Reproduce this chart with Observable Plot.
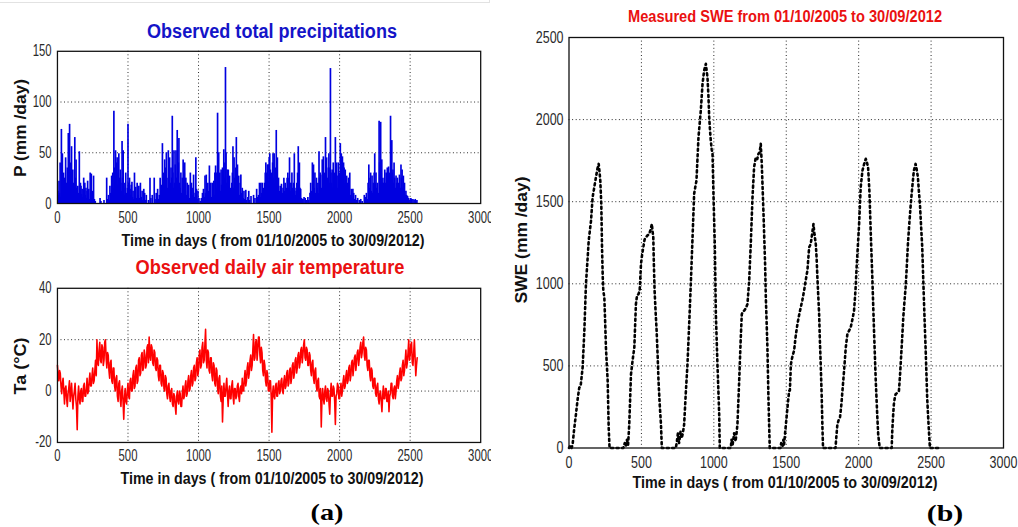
<!DOCTYPE html>
<html>
<head>
<meta charset="utf-8">
<script src="https://cdn.jsdelivr.net/npm/d3@7"></script>
<script src="https://cdn.jsdelivr.net/npm/@observablehq/plot@0.6"></script>
<style>
  html, body { margin: 0; padding: 0; background: #fff; }
  body { width: 1018px; height: 527px; position: relative; overflow: hidden; font-family: "Liberation Sans", Arial, sans-serif; }
  .lbl { position: absolute; white-space: nowrap; font-weight: bold; line-height: 1; transform-origin: center center; }
  #leftClip { position: absolute; left: 0; top: 0; width: 491px; height: 527px; overflow: hidden; }
  #topRule { position: absolute; left: 0; top: 0; width: 489px; height: 2px; border-bottom: 1px solid #e2e2e2; border-right: 1px solid #e2e2e2; }
</style>
</head>
<body>
<div id="leftClip"><div id="topRule"></div></div>
<script>
// ---------------- data ----------------
const xTicks = [0, 500, 1000, 1500, 2000, 2500, 3000];
const pTicks = [0, 50, 100, 150];
const taTicks = [-20, 0, 20, 40];
const sweTicks = [0, 500, 1000, 1500, 2000, 2500];

const titleP = "Observed total precipitations";
const titleTa = "Observed daily air temperature";
const titleSwe = "Measured SWE from 01/10/2005 to 30/09/2012";
const xLabel = "Time in days ( from 01/10/2005 to 30/09/2012)";
const yLabelP = "P (mm /day)";
const yLabelTa = "Ta (°C)";
const yLabelSwe = "SWE (mm /day)";
const panelA = "(a)";
const panelB = "(b)";

// daily precipitation [day, mm/day]
const precipitation = [
 [3,12],[7,8],[11,22],[15,10],[19,40],[23,6],[28,73],[31,18],[35,49],[39,12],[43,30],[47,8],[51,25],[54,14],[58,45],[62,20],[66,10],[70,35],[74,15],[77,69],[81,28],[86,78],[90,40],[94,18],[97,30],[100,56],[104,12],[109,33],[113,20],[118,8],[123,65],[127,25],[132,43],[136,15],[140,5],[144,17],[148,10],[151,8],[155,51],[159,12],[163,20],[167,17],[171,9],[175,14],[180,6],[186,25],[190,12],[194,20],[198,8],[202,15],[207,5],[210,12],[214,22],[218,6],[222,14],[226,4],[232,30],[236,10],[240,29],[245,6],[250,12],[256,27],[262,4],[268,2],
 [302,5],[308,2],[330,3],[349,25],[356,4],[362,8],[368,3],[372,17],[378,10],[384,27],[388,12],[392,30],[396,15],[400,91],[404,35],[408,20],[412,52],[416,22],[420,40],[423,45],[427,18],[431,30],[435,49],[439,25],[442,15],[446,33],[450,20],[454,12],[458,61],[462,25],[466,52],[470,15],[474,8],[478,20],[484,30],[488,10],[492,6],[496,15],[500,78],[504,20],[508,10],[511,25],[515,14],[519,8],[523,18],[528,21],[532,6],[536,12],[541,4],[546,30],[550,10],[555,16],[560,5],[565,20],[570,8],[577,17],[582,5],[588,20],[594,6],[600,12],[606,3],[612,14],[618,10],[624,3],[630,8],
 [645,3],[656,25],[662,5],[672,8],[686,25],[692,4],[700,10],[710,14],[715,4],[722,8],[728,25],[733,12],[738,18],[744,59],[748,22],[752,30],[756,12],[760,43],[764,20],[768,35],[772,50],[776,25],[780,15],[786,52],[790,30],[795,45],[800,20],[805,35],[810,25],[814,86],[818,30],[822,15],[826,52],[830,20],[835,38],[840,52],[844,25],[849,72],[853,30],[857,40],[861,64],[865,20],[870,15],[875,30],[880,10],[885,25],[891,43],[895,18],[899,30],[902,40],[906,12],[910,25],[915,8],[920,20],[925,10],[930,18],[935,5],[942,30],[946,12],[950,20],[955,8],[960,15],[965,28],[970,6],[976,10],[981,45],[986,14],[990,4],[996,12],[1003,5],[1012,2],
 [1020,5],[1028,10],[1035,14],[1040,6],[1046,27],[1050,10],[1055,28],[1060,8],[1066,20],[1072,12],[1077,37],[1082,10],[1087,20],[1092,6],[1098,20],[1103,12],[1108,22],[1112,8],[1116,30],[1121,37],[1126,15],[1130,30],[1135,89],[1139,30],[1143,50],[1147,20],[1151,30],[1155,12],[1160,33],[1164,18],[1170,35],[1175,20],[1179,53],[1183,25],[1187,40],[1191,134],[1195,50],[1199,20],[1203,33],[1207,12],[1211,33],[1215,8],[1220,27],[1225,15],[1230,10],[1236,20],[1240,30],[1244,56],[1248,15],[1252,45],[1256,25],[1260,20],[1264,35],[1268,65],[1272,25],[1276,38],[1280,15],[1285,27],[1290,8],[1295,20],[1300,28],[1305,10],[1310,15],[1316,5],[1322,12],[1328,4],[1335,13],[1340,3],[1350,6],[1356,12],[1362,3],[1372,7],
 [1390,8],[1400,5],[1412,14],[1418,6],[1425,8],[1432,20],[1437,6],[1442,20],[1447,10],[1452,20],[1456,8],[1462,15],[1468,20],[1473,30],[1477,40],[1481,30],[1485,20],[1489,38],[1493,38],[1497,22],[1501,45],[1505,49],[1509,33],[1513,20],[1517,30],[1521,15],[1525,40],[1528,49],[1532,25],[1536,49],[1540,20],[1545,35],[1551,72],[1555,30],[1559,45],[1563,20],[1567,25],[1572,12],[1579,17],[1584,8],[1588,19],[1593,10],[1599,15],[1605,25],[1610,12],[1614,20],[1618,8],[1623,15],[1628,25],[1633,30],[1637,15],[1641,25],[1645,45],[1649,20],[1653,12],[1658,20],[1662,30],[1667,15],[1671,8],[1675,20],[1679,49],[1683,15],[1687,8],[1692,12],[1697,20],[1702,30],[1707,56],[1711,25],[1715,40],[1719,15],[1724,14],[1730,5],[1735,4],[1741,4],[1748,6],[1756,5],
 [1765,3],[1775,6],[1782,3],[1790,10],[1795,20],[1800,12],[1807,40],[1811,20],[1815,38],[1820,15],[1825,30],[1830,10],[1836,25],[1841,15],[1846,20],[1850,10],[1854,51],[1858,25],[1862,30],[1866,28],[1870,15],[1877,43],[1881,20],[1885,46],[1889,25],[1894,30],[1900,65],[1904,30],[1908,45],[1912,20],[1916,25],[1920,35],[1924,49],[1928,20],[1932,35],[1935,133],[1939,30],[1943,20],[1947,33],[1951,15],[1955,40],[1959,25],[1963,20],[1966,30],[1970,65],[1974,25],[1978,40],[1982,27],[1986,15],[1991,40],[1995,25],[2000,30],[2005,59],[2008,45],[2012,49],[2016,40],[2020,46],[2024,30],[2028,40],[2032,35],[2036,20],[2040,33],[2045,15],[2050,27],[2054,10],[2058,20],[2063,25],[2068,12],[2072,30],[2077,8],[2083,14],[2088,5],[2094,14],[2100,10],[2106,4],[2113,8],[2120,3],[2128,5],
 [2140,3],[2150,4],[2160,2],[2175,8],[2182,6],[2190,10],[2196,4],[2202,20],[2207,38],[2211,15],[2216,25],[2220,30],[2225,12],[2230,27],[2236,10],[2240,20],[2245,30],[2249,49],[2253,20],[2258,30],[2262,15],[2268,20],[2274,10],[2280,81],[2284,40],[2291,80],[2295,30],[2299,43],[2303,20],[2307,25],[2312,20],[2316,15],[2320,33],[2325,20],[2330,30],[2334,15],[2338,35],[2342,20],[2347,36],[2351,20],[2356,30],[2361,86],[2365,40],[2370,62],[2374,30],[2378,33],[2382,20],[2386,40],[2390,25],[2395,15],[2400,27],[2405,20],[2410,25],[2414,10],[2419,20],[2424,28],[2429,15],[2435,38],[2439,25],[2443,33],[2447,15],[2452,27],[2456,10],[2460,20],[2465,8],[2470,12],[2475,8],[2482,7],[2490,5],[2498,3],[2505,5],[2512,4],[2520,4],[2528,3],[2536,4],[2540,2],[2548,3]
];

// air temperature (°C), one reading every 5 days starting at day 0
const taStepDays = 5;
const airTemperature = [
 10,6,4,8,7,2,-1,3,5,0,-5,1,2,-3,-6,-1,1,4,-4,-1,
 3,-2,-7,-2,0,3,-3,-6,-15,-2,2,-3,-5,0,1,-4,-4,2,3,-2,
 -2,1,5,-1,0,4,7,2,2,6,9,3,4,8,12,6,20,11,10,16,
 19,12,11,18,17,10,12,19,20,13,9,15,14,8,5,11,12,4,3,9,
 9,2,0,5,6,-2,-4,3,4,-3,-6,0,2,-4,-11,-3,1,-4,-5,0,
 3,-2,-3,4,5,0,0,6,8,1,2,9,10,3,4,12,13,6,7,14,
 15,8,9,16,14,9,10,17,18,11,21,14,12,18,17,11,10,16,15,9,
 8,13,12,6,4,10,10,3,2,8,7,1,0,6,5,-1,-3,2,3,-2,
 -4,0,1,-5,-6,-1,-2,-6,-9,-2,0,-4,-5,0,-1,-6,-6,-1,2,-3,
 -2,2,4,-2,-1,4,6,0,1,6,8,2,3,9,10,4,5,11,13,6,
 8,14,16,9,10,17,19,11,12,18,24,12,9,16,15,8,7,13,13,6,
 4,11,10,3,2,9,8,1,-1,5,6,-2,-4,2,-12,-3,3,-2,-2,2,
 5,-1,-6,0,2,-3,-3,2,4,-2,-5,1,1,-3,-2,2,3,-2,-4,1,
 2,-1,5,0,0,5,8,2,4,9,11,5,7,12,14,8,10,16,22,12,
 13,19,20,12,16,21,21,14,11,17,15,8,6,12,10,4,2,8,6,0,
 0,4,4,-2,-16,-1,2,-2,-3,2,3,-2,-2,3,4,-1,0,4,5,0,
 -1,4,6,1,2,7,8,2,3,8,9,3,5,10,11,5,7,12,13,7,
 9,14,15,9,11,16,17,11,14,18,20,13,12,17,16,10,10,15,14,8,
 6,11,12,5,3,8,9,2,0,4,5,-2,-3,1,-14,-3,1,-3,-5,0,
 2,-3,-4,1,0,-5,-9,-1,3,-2,-2,2,1,-4,-13,-2,-1,3,2,-3,
 -3,1,3,-2,0,4,6,1,2,6,8,3,4,9,10,4,6,11,12,6,
 9,13,14,8,11,15,16,10,13,17,19,13,15,19,21,14,12,17,16,10,
 8,12,12,6,4,9,8,2,1,5,5,-1,-2,2,3,-3,-5,-1,0,-4,
 -8,-2,2,-3,-3,1,1,-4,-4,0,-8,-2,-1,3,3,-2,-3,1,2,-3,
 0,4,6,1,3,7,9,4,5,10,12,6,8,12,16,9,11,15,20,12,
 14,18,19,11,10,15,20,13,6,10,13
];

// measured snow water equivalent [day, mm]
const swe = [
 [0,0],[10,15],[18,0],[25,22],[35,110],[48,205],[60,300],[71,368],[80,375],[94,490],[106,714],[117,998],[129,1161],[136,1262],[152,1384],[163,1527],[175,1590],[186,1649],[196,1700],[205,1730],[211,1680],[216,1629],[223,1486],[228,1222],[233,1040],[237,957],[244,917],[250,760],[255,612],[267,409],[274,124],[280,0],
 [330,0],[375,0],[385,30],[392,10],[400,50],[408,20],[416,144],[428,449],[440,540],[451,612],[462,876],[470,930],[480,937],[488,960],[497,1120],[505,1180],[513,1222],[522,1270],[531,1283],[542,1295],[554,1303],[563,1330],[572,1364],[577,1320],[582,1283],[586,1120],[591,957],[598,830],[605,714],[612,560],[618,409],[626,270],[635,144],[641,0],
 [700,0],[738,0],[745,40],[752,90],[760,30],[770,100],[778,60],[786,90],[795,144],[806,330],[818,510],[830,760],[841,998],[853,1283],[864,1547],[872,1590],[880,1628],[894,1893],[910,2055],[922,2218],[933,2299],[945,2340],[950,2300],[956,2259],[963,2137],[968,2015],[974,1930],[979,1872],[985,1820],[991,1791],[998,1527],[1007,1222],[1014,815],[1025,510],[1037,205],[1041,0],
 [1100,0],[1117,0],[1122,50],[1130,20],[1140,90],[1150,40],[1158,100],[1163,144],[1175,409],[1185,650],[1193,815],[1200,830],[1209,836],[1220,850],[1232,876],[1244,1019],[1255,1242],[1267,1527],[1278,1710],[1290,1771],[1300,1760],[1308,1791],[1316,1800],[1324,1852],[1331,1730],[1337,1580],[1343,1425],[1354,1120],[1359,917],[1370,612],[1377,307],[1383,100],[1386,0],
 [1440,0],[1460,0],[1465,30],[1475,10],[1480,50],[1485,22],[1494,110],[1504,205],[1512,280],[1520,348],[1525,350],[1532,510],[1543,560],[1554,592],[1565,680],[1577,754],[1589,810],[1600,856],[1611,900],[1623,957],[1634,1020],[1646,1080],[1658,1222],[1669,1242],[1678,1300],[1688,1364],[1695,1300],[1704,1242],[1710,1150],[1715,1039],[1727,815],[1732,660],[1738,510],[1745,307],[1750,120],[1754,0],
 [1820,0],[1840,0],[1845,60],[1853,144],[1862,170],[1871,185],[1880,260],[1888,348],[1900,480],[1911,612],[1922,693],[1934,715],[1945,734],[1956,780],[1968,836],[1978,960],[1987,1120],[1995,1240],[2003,1364],[2014,1588],[2026,1689],[2038,1730],[2049,1761],[2057,1740],[2065,1710],[2074,1567],[2083,1323],[2095,1019],[2106,714],[2118,409],[2129,185],[2135,80],[2140,43],[2145,0],
 [2200,0],[2228,0],[2232,104],[2238,200],[2243,266],[2250,310],[2255,327],[2265,335],[2278,348],[2286,450],[2294,571],[2301,680],[2308,795],[2316,890],[2324,978],[2332,1100],[2340,1242],[2349,1360],[2358,1466],[2364,1530],[2370,1588],[2381,1689],[2393,1730],[2400,1700],[2409,1649],[2416,1560],[2423,1486],[2431,1350],[2439,1222],[2444,1080],[2450,917],[2456,760],[2462,612],[2468,450],[2473,307],[2479,200],[2485,104],[2492,0],[2566,0]
];

// ---------------- drawing ----------------
const FONT = '"Liberation Sans", Arial, sans-serif';

function panel(opts) {
  const [y0, y1] = [opts.yTicks[0], opts.yTicks[opts.yTicks.length - 1]];
  const inner = opts.yTicks.filter(t => t > y0 && t < y1);
  const xInner = xTicks.filter(t => t > 0 && t < 3000);
  const tickText = { fontSize: 16, fill: "#2a2a2a", fontFamily: FONT };
  return Plot.plot({
    width: opts.width, height: opts.height,
    marginLeft: opts.ml, marginRight: opts.mr, marginTop: opts.mt, marginBottom: opts.mb,
    style: { fontFamily: FONT, fontSize: "16px", color: "#2a2a2a", background: "transparent", overflow: "visible" },
    x: { domain: [0, 3000] },
    y: { domain: [y0, y1] },
    marks: [
      Plot.gridX({ ticks: xInner, stroke: "#000", strokeOpacity: 0.85, strokeDasharray: "1,2.6" }),
      Plot.gridY({ ticks: inner, stroke: "#000", strokeOpacity: 0.85, strokeDasharray: "1,2.6" }),
      ...opts.marks,
      Plot.frame({ stroke: "#111", strokeWidth: 1.3 }),
      Plot.axisX({ ticks: xTicks, tickSize: 0, tickPadding: opts.xPad, label: null, tickFormat: d => String(d), ...tickText }),
      Plot.axisY({ ticks: opts.yTicks, tickSize: 0, tickPadding: opts.yPad, label: null, tickFormat: d => String(d), ...tickText })
    ]
  });
}

function place(svg, parent, left, top, squeeze) {
  svg.style.position = "absolute";
  svg.style.left = left + "px";
  svg.style.top = top + "px";
  parent.appendChild(svg);
  svg.querySelectorAll('g[aria-label$="tick label"] text').forEach(t => {
    const w = t.getComputedTextLength();
    t.setAttribute("textLength", (w * squeeze).toFixed(2));
    t.setAttribute("lengthAdjust", "spacingAndGlyphs");
  });
}

function addText(str, cx, cy, targetW, size, color, rotate, serif) {
  const d = document.createElement("div");
  d.className = "lbl";
  d.textContent = str;
  d.style.left = cx + "px";
  d.style.top = cy + "px";
  d.style.fontSize = size + "px";
  d.style.color = color;
  d.style.fontFamily = serif ? '"Liberation Serif", "Times New Roman", serif' : FONT;
  document.body.appendChild(d);
  const w = d.getBoundingClientRect().width;
  const s = targetW / w;
  d.style.transform = `translate(-50%,-50%) ${rotate ? "rotate(-90deg) " : ""}scaleX(${s.toFixed(4)})`;
}

const leftClip = document.getElementById("leftClip");

// precipitation panel
place(panel({
  width: 500, height: 190, ml: 58, mr: 11, mt: 11, mb: 24, xPad: 8.5, yPad: 6,
  yTicks: pTicks,
  marks: [
    Plot.ruleX(precipitation, { x: d => d[0], y1: 0, y2: d => d[1], stroke: "#0000e0", strokeWidth: 1.7 })
  ]
}), leftClip, 0, 40, 0.72);

// air temperature panel
place(panel({
  width: 500, height: 190, ml: 58, mr: 11, mt: 11, mb: 22, xPad: 8, yPad: 6,
  yTicks: taTicks,
  marks: [
    Plot.line(airTemperature, { x: (d, i) => i * taStepDays, y: d => d, stroke: "#ff0000", strokeWidth: 1.6 })
  ]
}), leftClip, 0, 277, 0.72);

// SWE panel
place(panel({
  width: 518, height: 480, ml: 68.5, mr: 15, mt: 37, mb: 32.5, xPad: 8.5, yPad: 5.5,
  yTicks: sweTicks,
  marks: [
    Plot.line(swe, { x: d => d[0], y: d => d[1], stroke: "#000", strokeWidth: 2.6, strokeDasharray: "2,3.4" })
  ]
}), document.body, 500, 0, 0.78);

// texts
addText(titleP, 272, 30.5, 250, 20, "#1414c8");
addText(xLabel, 272.5, 241, 303, 16, "#111");
addText(yLabelP, 20.5, 127.5, 98, 16, "#111", true);
addText(titleTa, 269.5, 267, 269, 20, "#ea1010");
addText(xLabel, 271.5, 478.5, 303, 16, "#111");
addText(yLabelTa, 20.5, 365.7, 57, 16, "#111", true);
addText(panelA, 326.7, 511.7, 33, 23, "#000", false, true);
addText(titleSwe, 785, 17, 314, 16, "#ea1010");
addText(xLabel, 784.5, 483.3, 305, 16, "#111");
addText(yLabelSwe, 521.5, 240.3, 127, 16, "#111", true);
addText(panelB, 945, 513.3, 36.5, 23, "#000", false, true);
</script>
</body>
</html>
